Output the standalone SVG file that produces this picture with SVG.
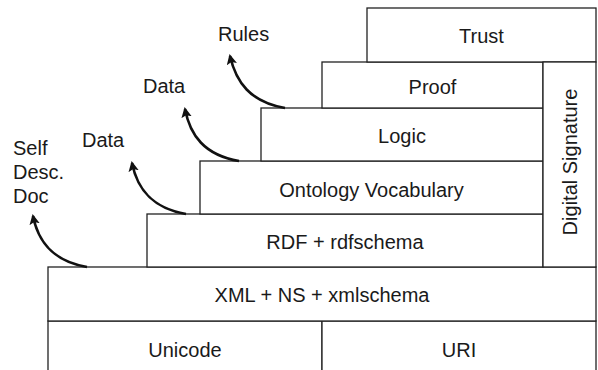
<svg xmlns="http://www.w3.org/2000/svg" width="598" height="370" viewBox="0 0 598 370">
<style>
.box{fill:#fff;stroke:#222;stroke-width:1.3}
.t{font-family:"Liberation Sans",Arial,sans-serif;font-size:20px;fill:#1a1a1a;text-anchor:middle}
.l{font-family:"Liberation Sans",Arial,sans-serif;font-size:20px;fill:#1a1a1a}
.arr{fill:none;stroke:#111;stroke-width:2.6;marker-end:url(#ah)}
</style>
<defs>
<marker id="ah" viewBox="0 0 10 10" refX="8" refY="5" markerWidth="4" markerHeight="4" orient="auto" markerUnits="strokeWidth">
<path d="M0,0 L10,5 L0,10 L2,5 Z" fill="#111"/>
</marker>
</defs>
<rect width="598" height="370" fill="#fff"/>
<g id="unicode"><rect class="box" x="48" y="321" width="274" height="60"/><text class="t" x="185" y="357">Unicode</text></g>
<g id="uri"><rect class="box" x="322" y="321" width="274" height="60"/><text class="t" x="459" y="357">URI</text></g>
<g id="xml"><rect class="box" x="48" y="267" width="548" height="54"/><text class="t" x="322" y="302">XML + NS + xmlschema</text></g>
<g id="rdf"><rect class="box" x="147" y="214" width="396" height="53"/><text class="t" x="345" y="249">RDF + rdfschema</text></g>
<g id="ontology"><rect class="box" x="200" y="161" width="343" height="53"/><text class="t" x="371.5" y="196.5">Ontology Vocabulary</text></g>
<g id="logic"><rect class="box" x="261" y="108" width="282" height="53"/><text class="t" x="402" y="143">Logic</text></g>
<g id="proof"><rect class="box" x="322" y="62" width="221" height="46"/><text class="t" x="432.5" y="94">Proof</text></g>
<g id="trust"><rect class="box" x="367" y="8" width="229" height="54"/><text class="t" x="481.5" y="43">Trust</text></g>
<g id="digsig"><rect class="box" x="543" y="62" width="53" height="205"/><text class="t" transform="translate(577,162) rotate(-90)">Digital Signature</text></g>
<g id="labels">
<text class="l" x="13" y="155">Self</text>
<text class="l" x="13" y="179">Desc.</text>
<text class="l" x="13" y="203">Doc</text>
<text class="l" x="82" y="146.5">Data</text>
<text class="l" x="143" y="93">Data</text>
<text class="l" x="218" y="41">Rules</text>
</g>
<g id="connectors">
<path class="arr" d="M87,267 C52,261 38,241 33,216"/>
<path class="arr" d="M186,214 C151,208 137,188 132,163"/>
<path class="arr" d="M239,161 C204,155 190,135 185,109"/>
<path class="arr" d="M285,108 C250,102 236,82 230,56"/>
</g>
</svg>
